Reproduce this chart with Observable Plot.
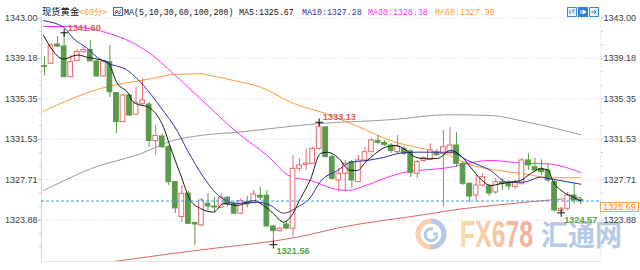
<!DOCTYPE html>
<html><head><meta charset="utf-8">
<script src="https://cdn.jsdelivr.net/npm/d3@7"></script>
<script src="https://cdn.jsdelivr.net/npm/@observablehq/plot@0.6"></script>
<style>
html,body{margin:0;padding:0;background:#fff;}
#wrap{position:relative;width:640px;height:270px;overflow:hidden;}
#wm,#chart,#hdr{position:absolute;left:0;top:0;}
#pricebox{position:absolute;box-sizing:border-box;border:1px solid #f3a257;background:#fff;color:#f08a2a;
  font:9px "Liberation Sans",Arial,sans-serif;text-align:center;}
</style></head>
<body>
<div id="wrap">
<svg id="wm" width="640" height="270">
  <defs>
    <linearGradient id="fxg" x1="0" x2="1" y1="0" y2="0">
      <stop offset="0" stop-color="#fcdba8"/><stop offset="1" stop-color="#f6ab9f"/>
    </linearGradient>
  </defs>
  <path d="M431 221 A13 13 0 0 0 431 247" fill="none" stroke="#f8cfae" stroke-width="5"/>
  <path d="M431 221 A13 13 0 0 1 431 247" fill="none" stroke="#b3c9e6" stroke-width="5"/>
  <path d="M437 236 A6 6 0 1 1 433 229 M433 234 h5" fill="none" stroke="#b3c9e6" stroke-width="3"/>
  <text x="460" y="247" font-family="Liberation Sans,Arial" font-weight="bold" font-size="37" fill="url(#fxg)" textLength="73" lengthAdjust="spacingAndGlyphs">FX678</text>
  <text x="541" y="246" font-family="Noto Sans CJK SC" font-weight="bold" font-size="29" fill="#b3c9e6" textLength="81" lengthAdjust="spacingAndGlyphs">汇通网</text>
</svg>
<div id="chart"></div>
<svg id="hdr" width="640" height="20"></svg>
<div id="pricebox"></div>
</div>
<script>
// ---- data ----
const title = "现货黄金";
const period = "<60分>";
const maLabel = "MA(5,10,30,60,100,200)";
const yTicks = [1343.00, 1339.18, 1335.35, 1331.53, 1327.71, 1323.88];
const yDomain = [1319.97, 1343.00];
const xDomain = [-0.46, 85.02];
const lastPrice = 1325.69;

const opens = [1338.45,1338.67,1340.49,1340.30,1337.40,1338.93,1339.77,1339.97,1338.89,1337.47,
1338.82,1335.89,1333.15,1335.67,1333.85,1334.89,1334.82,1331.35,1331.79,1330.78,
1327.47,1324.18,1326.40,1323.62,1323.38,1325.43,1325.18,1325.05,1326.00,1325.43,
1324.49,1325.58,1325.49,1326.19,1326.19,1323.28,1322.84,1323.47,1323.07,1328.74,
1329.10,1329.21,1330.63,1332.65,1329.84,1327.63,1328.27,1329.37,1327.47,1329.53,
1330.31,1331.37,1331.18,1330.94,1330.31,1330.61,1330.38,1328.27,1329.48,1329.57,
1330.28,1330.16,1330.19,1330.94,1329.21,1327.32,1326.21,1327.16,1327.07,1326.50,
1327.47,1327.44,1327.00,1327.32,1329.53,1328.89,1328.74,1328.58,1327.47,1324.73,
1324.96,1326.21,1325.81];
const highs = [1339.29,1340.59,1341.25,1341.60,1339.45,1340.02,1340.24,1340.87,1338.98,1338.98,
1340.40,1335.96,1335.77,1335.77,1336.46,1337.25,1335.01,1332.83,1331.98,1330.94,
1327.54,1327.16,1326.59,1323.66,1325.93,1326.38,1326.05,1326.38,1326.12,1325.55,
1325.90,1326.12,1326.69,1327.00,1326.69,1323.38,1323.22,1323.76,1330.00,1329.69,
1330.63,1330.78,1333.13,1332.74,1330.00,1328.74,1329.53,1329.53,1330.00,1330.78,
1331.61,1331.89,1331.42,1331.13,1331.89,1330.85,1330.57,1329.53,1329.90,1331.10,
1330.57,1332.36,1332.65,1332.17,1329.34,1327.44,1328.11,1328.27,1327.26,1327.82,
1327.82,1327.63,1327.63,1329.72,1330.16,1329.72,1329.59,1329.24,1327.63,1325.08,
1326.50,1327.32,1325.93];
const lows = [1337.56,1338.60,1340.21,1337.37,1337.37,1338.89,1339.69,1338.89,1337.42,1337.42,
1335.48,1332.05,1333.12,1333.69,1333.78,1334.73,1330.78,1330.00,1330.66,1327.16,
1324.51,1323.69,1323.47,1321.49,1323.22,1324.80,1324.54,1324.96,1325.11,1324.42,
1324.42,1325.05,1325.43,1325.74,1323.22,1321.56,1322.75,1322.97,1322.27,1328.42,
1328.58,1329.15,1330.47,1329.81,1327.63,1326.53,1326.53,1326.88,1327.44,1329.43,
1330.28,1331.04,1330.85,1330.19,1330.19,1330.00,1327.92,1327.82,1329.34,1329.53,
1329.90,1325.11,1330.09,1328.86,1327.16,1325.58,1325.58,1327.00,1326.12,1326.30,
1326.69,1326.69,1326.78,1327.16,1328.58,1328.39,1328.11,1327.47,1324.64,1324.57,
1324.80,1325.43,1325.36];
const closes = [1338.38,1340.40,1340.30,1337.40,1338.82,1339.78,1339.97,1338.89,1337.47,1338.89,
1335.98,1333.15,1335.67,1333.78,1334.94,1335.20,1331.37,1331.84,1330.78,1327.47,
1324.99,1326.38,1323.54,1323.47,1325.74,1325.18,1325.08,1326.00,1325.36,1324.49,
1325.68,1325.36,1326.31,1326.00,1323.28,1322.84,1323.07,1323.09,1328.74,1329.05,
1329.24,1330.63,1332.67,1329.84,1327.79,1328.27,1329.21,1327.63,1329.53,1330.31,
1331.42,1331.20,1331.00,1330.42,1330.85,1330.16,1328.34,1329.37,1329.74,1330.47,
1330.04,1330.78,1330.94,1329.21,1327.32,1326.12,1327.16,1327.95,1326.40,1327.47,
1327.32,1327.07,1327.38,1329.53,1329.05,1328.58,1328.42,1327.63,1324.80,1324.96,
1326.21,1325.74,1325.69];

// moving averages: [bar index, price]
const ma5 = [[-0.15,1341.35],[2.91,1339.12],[5.05,1339.50],[6.73,1339.26],[8.56,1339.05],[9.63,1338.84],[11.16,1336.78],[12.69,1335.98],[13.61,1335.04],[16.21,1334.44],[18.2,1332.67],[19.27,1330.75],[20.8,1328.20],[22.32,1325.74],[23.85,1324.99],[25.84,1324.64],[27.37,1325.46],[29.51,1325.27],[31.96,1325.74],[33.49,1325.27],[35.02,1324.49],[36.54,1323.69],[37.61,1324.16],[39.14,1325.93],[40.67,1327.73],[42.2,1330.19],[43.27,1330.31],[44.8,1329.84],[46.79,1328.58],[47.86,1328.58],[49.08,1329.36],[50.61,1330.19],[52.14,1330.78],[53.67,1330.94],[55.2,1330.54],[56.73,1329.84],[58.26,1329.69],[60.09,1329.71],[62.08,1330.47],[63.61,1330.0],[65.14,1328.89],[66.67,1327.79],[68.2,1327.16],[69.72,1327.32],[71.25,1327.47],[72.78,1327.63],[74.31,1328.27],[75.84,1328.74],[76.91,1328.65],[77.83,1327.47],[79.36,1326.53],[80.89,1326.05],[82,1325.67]];
const ma10 = [[-0.15,1342.74],[2.91,1342.13],[4.43,1341.06],[6.57,1340.12],[8.1,1339.26],[9.63,1338.74],[12.69,1338.04],[15.14,1336.62],[17.74,1334.57],[20.34,1332.27],[21.87,1330.47],[24.31,1327.95],[26.91,1326.05],[29.51,1325.46],[32.57,1325.58],[34.56,1325.27],[36.54,1324.54],[38.69,1325.11],[40.67,1326.03],[42.2,1327.54],[44.8,1328.58],[46.79,1329.34],[49.39,1329.53],[51.83,1329.81],[54.43,1330.22],[57.03,1330.31],[62.08,1330.31],[64.68,1329.53],[68.2,1328.58],[70.8,1327.47],[73.24,1327.47],[75.84,1327.95],[77.37,1327.79],[82,1327.28]];
const ma30 = [[-0.15,1342.20],[3.21,1342.20],[8.56,1341.77],[16.21,1339.61],[19.72,1337.72],[23.85,1335.36],[29.46,1332.17],[34.05,1330.0],[37.61,1328.01],[40.67,1327.63],[44.19,1326.85],[46.48,1326.69],[49.08,1327.16],[54.43,1328.32],[62.08,1328.89],[65.6,1329.36],[68.2,1329.53],[73.24,1329.27],[76.91,1329.21],[82,1328.38]];
const ma60 = [[-0.15,1334.19],[8.56,1336.33],[16.21,1337.25],[19.72,1337.66],[23.85,1337.72],[25.38,1337.56],[28.9,1337.09],[33.03,1336.46],[38.07,1334.92],[42.97,1333.97],[47.55,1332.83],[53.36,1331.32],[58.26,1330.57],[62.08,1329.95],[64.68,1329.21],[68.65,1328.65],[73.24,1328.27],[77.37,1327.89],[82,1327.90]];
const ma100 = [[-0.15,1326.69],[1.99,1327.32],[7.03,1328.74],[14.68,1330.16],[19.72,1331.42],[23.85,1331.89],[29.51,1332.20],[41.74,1333.0],[53.36,1333.40],[61.62,1333.85],[68.2,1333.78],[73.85,1333.15],[82,1331.96]];
const ma200 = [[8.56,1319.79],[19.27,1320.70],[23.85,1321.06],[40.67,1322.53],[44.19,1323.05],[58.26,1324.42],[62.08,1324.80],[70.8,1325.41],[82,1326.03]];

const highMarks = [{i:3, p:1341.60}, {i:42, p:1333.13}];
const lowMarks = [{i:35, p:1321.56}, {i:79, p:1324.57}];

// ---- styling ----
const UP = "#e8696b", DOWN = "#5a9a4a";
const C5 = "#1a1a1a", C10 = "#2e2eaa", C30 = "#ff2bff", C60 = "#ff9a33", C100 = "#9a9a9a", C200 = "#e06464";

const candles = opens.map((o, i) => ({i, o, h: highs[i], l: lows[i], c: closes[i], up: closes[i] >= o}));
const step = yTicks[0] - yTicks[1];
const minor = [];
for (let k = 1; yTicks[0] - k * step / 3 > yDomain[0]; k++) if (k % 3) minor.push(yTicks[0] - k * step / 3);
const fmt = d => d.toFixed(2);
const line = (data, stroke) => Plot.line(data, {x: d => d[0], y: d => d[1], stroke, strokeWidth: 1, curve: "monotone-x", clip: true});

const chart = Plot.plot({
  width: 640, height: 270,
  marginLeft: 41, marginRight: 40, marginTop: 17.5, marginBottom: 9,
  style: {background: "transparent", fontFamily: "'Liberation Sans', Arial, sans-serif", fontSize: "9px", color: "#444", overflow: "visible"},
  x: {type: "linear", domain: xDomain, axis: null},
  y: {domain: yDomain, axis: null},
  marks: [
    Plot.gridY(yTicks, {stroke: "#d6d6d6", strokeOpacity: 1, strokeDasharray: "1,2"}),
    Plot.ruleY([yDomain[0]], {stroke: "#e4e4e4"}),
    Plot.ruleX([xDomain[0]], {stroke: "#cfd5df"}),
    Plot.ruleX([xDomain[1]], {stroke: "#d8d8d8", strokeDasharray: "1,2"}),
    Plot.axisY(yTicks, {anchor: "left", tickSize: 3, tickPadding: 1, tickFormat: fmt, label: null, stroke: "#b8c0cc", fill: "#3c3c3c"}),
    Plot.axisY(minor, {anchor: "left", tickSize: 2, tickFormat: () => "", label: null, stroke: "#c8ced8"}),
    Plot.axisY(yTicks, {anchor: "right", tickSize: 2, tickPadding: 1, tickFormat: fmt, label: null, stroke: "#c8c8c8", fill: "#3c3c3c"}),
    Plot.axisY(minor, {anchor: "right", tickSize: 2, tickFormat: () => "", label: null, stroke: "#d0d0d0"}),
    line(ma200, C200),
    line(ma100, C100),
    line(ma60, C60),
    line(ma30, C30),
    Plot.ruleX(candles, {x: "i", y1: "l", y2: "h", stroke: d => d.up ? UP : DOWN, strokeWidth: 1}),
    Plot.rect(candles, {x1: d => d.i - 0.36, x2: d => d.i + 0.36, y1: "o", y2: "c",
      fill: d => d.up ? "#ffffff" : DOWN, stroke: d => d.up ? UP : DOWN, strokeWidth: 1}),
    line(ma10, C10),
    line(ma5, C5),
    Plot.ruleY([lastPrice], {stroke: "#3d9bf0", strokeDasharray: "3,2", strokeWidth: 1}),
    Plot.dot(highMarks.concat(lowMarks), {x: "i", y: "p", symbol: "plus", r: 2.6, stroke: "#111", strokeWidth: 1}),
    Plot.text(highMarks, {x: "i", y: "p", text: d => fmt(d.p), fill: "#e05a5a", fontWeight: "bold", fontSize: 9.2, textAnchor: "start", dx: 3.5, dy: -5.2}),
    Plot.text(lowMarks, {x: "i", y: "p", text: d => fmt(d.p), fill: "#58a04c", fontWeight: "bold", fontSize: 9.2, textAnchor: "start", dx: 3, dy: 6.8})
  ]
});
document.getElementById("chart").appendChild(chart);

// current price tag on the right axis, placed through the plot's own y scale
const yPix = chart.scale("y").apply(lastPrice);
const box = document.getElementById("pricebox");
box.textContent = fmt(lastPrice);
Object.assign(box.style, {left: "600px", top: (yPix + 1) + "px", width: "39px", height: "10px", lineHeight: "8px"});

// header legend
const NS = "http://www.w3.org/2000/svg";
const hdr = document.getElementById("hdr");
const last = a => a[a.length - 1][1].toFixed(2);
const items = [
  {x: 42, t: title, c: "#111", f: "'Noto Sans CJK SC'", s: 9.3},
  {x: 79, t: period, c: "#f39a2c", f: "'Liberation Mono','Noto Sans CJK SC'", s: 8.3},
  {x: 124, t: maLabel, c: "#111", f: "'Liberation Mono'", s: 8.3},
  {x: 239, t: "MA5:" + last(ma5), c: "#111", f: "'Liberation Mono'", s: 8.3},
  {x: 302, t: "MA10:" + last(ma10), c: C10, f: "'Liberation Mono'", s: 8.3},
  {x: 368, t: "MA30:" + last(ma30), c: C30, f: "'Liberation Mono'", s: 8.3},
  {x: 435, t: "MA60:" + last(ma60), c: C60, f: "'Liberation Mono'", s: 8.3}
];
for (const it of items) {
  const t = document.createElementNS(NS, "text");
  t.setAttribute("x", it.x); t.setAttribute("y", 15);
  t.setAttribute("fill", it.c); t.setAttribute("font-size", it.s);
  t.setAttribute("font-family", it.f);
  t.textContent = it.t;
  hdr.appendChild(t);
}
hdr.insertAdjacentHTML("beforeend", `
  <rect x="113.5" y="7.5" width="9" height="8" fill="#fff" stroke="#3b6fc6"/>
  <polyline points="114.5,13 116.5,10 118.5,12.5 121.5,9" fill="none" stroke="#e04848"/>
  <polyline points="114.5,14.5 117,12 119,14 121.5,11.5" fill="none" stroke="#3b6fc6"/>
  <rect x="567.5" y="7.5" width="9" height="9" fill="#eaf3fc" stroke="#3a86d4"/>
  <path d="M570 10v4M572 10h3M572 12h2" stroke="#3a86d4"/>
  <rect x="578.5" y="7.5" width="9" height="9" fill="#2f7fcf" stroke="#2f7fcf"/>
  <path d="M581 10v4M583 10l3 2-3 2z" stroke="#fff" fill="#fff"/>
  <rect x="589.5" y="7.5" width="9" height="9" fill="#eaf3fc" stroke="#3a86d4"/>
  <path d="M591 12h5M594 10l2 2-2 2" stroke="#3a86d4" fill="none"/>
`);
</script>
</body></html>
